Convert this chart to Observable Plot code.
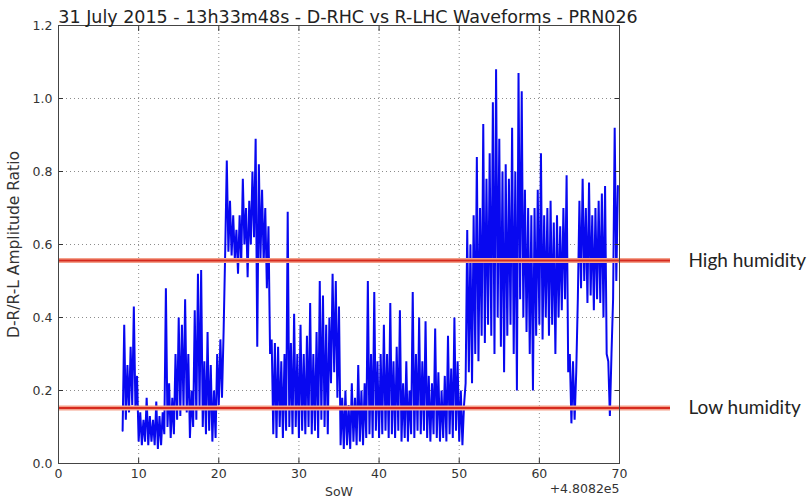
<!DOCTYPE html>
<html>
<head>
<meta charset="utf-8">
<script src="https://cdn.jsdelivr.net/npm/d3@7"></script>
<script src="https://cdn.jsdelivr.net/npm/@observablehq/plot@0.6"></script>
<style>
  html, body { margin: 0; padding: 0; background: #fff; }
  #chart svg { display: block; }
</style>
</head>
<body>
<div id="chart"></div>
<script>
// Chart text
const titleText = "31 July 2015 - 13h33m48s - D-RHC vs R-LHC Waveforms - PRN026";
const yLabel = "D-R/R-L Amplitude Ratio";
const xLabel = "SoW";
const xOffsetText = "+4.8082e5";

// Ticks
const xTicks = [0, 10, 20, 30, 40, 50, 60, 70];
const yTicks = [0.0, 0.2, 0.4, 0.6, 0.8, 1.0, 1.2];

// Humidity reference levels
const levelNames = ["High humidity", "Low humidity"];
const levelValues = [0.556, 0.152];

// Seconds of week (offset +4.8082e5)
const sow = [
  8.0, 8.2, 8.4, 8.6, 8.8,
  9.0, 9.2, 9.4, 9.6, 9.8,
  10.0, 10.2, 10.4, 10.6, 10.8,
  11.0, 11.2, 11.4, 11.6, 11.8,
  12.0, 12.2, 12.4, 12.6, 12.8,
  13.0, 13.2, 13.4, 13.6, 13.8,
  14.0, 14.2, 14.4, 14.6, 14.8,
  15.0, 15.2, 15.4, 15.6, 15.8,
  16.0, 16.2, 16.4, 16.6, 16.8,
  17.0, 17.2, 17.4, 17.6, 17.8,
  18.0, 18.2, 18.4, 18.6, 18.8,
  19.0, 19.2, 19.4, 19.6, 19.8,
  20.0, 20.2, 20.4, 20.6, 20.8,
  21.0, 21.2, 21.4, 21.6, 21.8,
  22.0, 22.2, 22.4, 22.6, 22.8,
  23.0, 23.2, 23.4, 23.6, 23.8,
  24.0, 24.2, 24.4, 24.6, 24.8,
  25.0, 25.2, 25.4, 25.6, 25.8,
  26.0, 26.2, 26.4, 26.6, 26.8,
  27.0, 27.2, 27.4, 27.6, 27.8,
  28.0, 28.2, 28.4, 28.6, 28.8,
  29.0, 29.2, 29.4, 29.6, 29.8,
  30.0, 30.2, 30.4, 30.6, 30.8,
  31.0, 31.2, 31.4, 31.6, 31.8,
  32.0, 32.2, 32.4, 32.6, 32.8,
  33.0, 33.2, 33.4, 33.6, 33.8,
  34.0, 34.2, 34.4, 34.6, 34.8,
  35.0, 35.2, 35.4, 35.6, 35.8,
  36.0, 36.2, 36.4, 36.6, 36.8,
  37.0, 37.2, 37.4, 37.6, 37.8,
  38.0, 38.2, 38.4, 38.6, 38.8,
  39.0, 39.2, 39.4, 39.6, 39.8,
  40.0, 40.2, 40.4, 40.6, 40.8,
  41.0, 41.2, 41.4, 41.6, 41.8,
  42.0, 42.2, 42.4, 42.6, 42.8,
  43.0, 43.2, 43.4, 43.6, 43.8,
  44.0, 44.2, 44.4, 44.6, 44.8,
  45.0, 45.2, 45.4, 45.6, 45.8,
  46.0, 46.2, 46.4, 46.6, 46.8,
  47.0, 47.2, 47.4, 47.6, 47.8,
  48.0, 48.2, 48.4, 48.6, 48.8,
  49.0, 49.2, 49.4, 49.6, 49.8,
  50.0, 50.2, 50.4, 50.6, 50.8,
  51.0, 51.2, 51.4, 51.6, 51.8,
  52.0, 52.2, 52.4, 52.6, 52.8,
  53.0, 53.2, 53.4, 53.6, 53.8,
  54.0, 54.2, 54.4, 54.6, 54.8,
  55.0, 55.2, 55.4, 55.6, 55.8,
  56.0, 56.2, 56.4, 56.6, 56.8,
  57.0, 57.2, 57.4, 57.6, 57.8,
  58.0, 58.2, 58.4, 58.6, 58.8,
  59.0, 59.2, 59.4, 59.6, 59.8,
  60.0, 60.2, 60.4, 60.6, 60.8,
  61.0, 61.2, 61.4, 61.6, 61.8,
  62.0, 62.2, 62.4, 62.6, 62.8,
  63.0, 63.2, 63.4, 63.6, 63.8,
  64.0, 64.2, 64.4, 64.6, 64.8,
  65.0, 65.2, 65.4, 65.6, 65.8,
  66.0, 66.2, 66.4, 66.6, 66.8,
  67.0, 67.2, 67.4, 67.6, 67.8,
  68.0, 68.2, 68.4, 68.6, 68.8,
  69.0, 69.2, 69.4, 69.6, 69.8
];

// D-R/R-L amplitude ratio
const ratio = [
  0.09, 0.38, 0.12, 0.27, 0.14,
  0.32, 0.16, 0.43, 0.15, 0.24,
  0.06, 0.14, 0.05, 0.12, 0.06,
  0.18, 0.05, 0.13, 0.06, 0.12,
  0.05, 0.17, 0.04, 0.13, 0.05,
  0.14, 0.08, 0.48, 0.10, 0.22,
  0.07, 0.18, 0.08, 0.30, 0.12,
  0.40, 0.13, 0.38, 0.15, 0.45,
  0.14, 0.30, 0.07, 0.20, 0.10,
  0.42, 0.12, 0.52, 0.15, 0.53,
  0.10, 0.28, 0.08, 0.36, 0.09,
  0.27, 0.06, 0.20, 0.07, 0.30,
  0.16, 0.34, 0.18, 0.36, 0.58,
  0.83, 0.58, 0.72, 0.57, 0.68,
  0.56, 0.64, 0.52, 0.68, 0.55,
  0.78, 0.60, 0.70, 0.51, 0.72,
  0.60, 0.80, 0.62, 0.89, 0.32,
  0.82, 0.56, 0.75, 0.55, 0.70,
  0.48, 0.65, 0.30, 0.34, 0.08,
  0.33, 0.07, 0.32, 0.10, 0.28,
  0.07, 0.30, 0.09, 0.69, 0.10,
  0.33, 0.08, 0.41, 0.10, 0.30,
  0.07, 0.38, 0.09, 0.30, 0.08,
  0.35, 0.10, 0.44, 0.08, 0.30,
  0.09, 0.36, 0.07, 0.50, 0.12,
  0.46, 0.10, 0.38, 0.08, 0.40,
  0.22, 0.52, 0.25, 0.50, 0.18,
  0.43, 0.05, 0.18, 0.04, 0.20,
  0.05, 0.16, 0.04, 0.22, 0.06,
  0.18, 0.05, 0.27, 0.06, 0.20,
  0.05, 0.22, 0.07, 0.50, 0.08,
  0.30, 0.07, 0.47, 0.09, 0.28,
  0.07, 0.30, 0.08, 0.38, 0.09,
  0.30, 0.07, 0.44, 0.08, 0.28,
  0.07, 0.32, 0.09, 0.42, 0.06,
  0.22, 0.07, 0.28, 0.06, 0.20,
  0.08, 0.47, 0.07, 0.30, 0.09,
  0.40, 0.08, 0.28, 0.09, 0.39,
  0.07, 0.24, 0.06, 0.22, 0.08,
  0.37, 0.07, 0.25, 0.06, 0.20,
  0.07, 0.24, 0.06, 0.35, 0.08,
  0.26, 0.07, 0.40, 0.09, 0.28,
  0.06, 0.20, 0.05, 0.16, 0.22,
  0.64, 0.25, 0.60, 0.22, 0.68,
  0.30, 0.84, 0.28, 0.70, 0.35,
  0.93, 0.33, 0.78, 0.38, 0.85,
  0.35, 0.99, 0.30, 1.08, 0.40,
  0.89, 0.32, 0.80, 0.25, 0.82,
  0.35, 0.78, 0.38, 0.92, 0.30,
  0.80, 0.20, 1.07, 0.45, 1.02,
  0.40, 0.75, 0.36, 0.70, 0.30,
  0.68, 0.20, 0.70, 0.35, 0.75,
  0.38, 0.85, 0.34, 0.68, 0.40,
  0.70, 0.35, 0.72, 0.38, 0.66,
  0.30, 0.68, 0.40, 0.65, 0.42,
  0.70, 0.45, 0.79, 0.25, 0.30,
  0.11, 0.28, 0.12, 0.25, 0.45,
  0.72, 0.48, 0.78, 0.50, 0.70,
  0.44, 0.77, 0.46, 0.68, 0.42,
  0.70, 0.45, 0.72, 0.44, 0.74,
  0.40, 0.76, 0.30, 0.28, 0.13,
  0.30, 0.45, 0.92, 0.50, 0.76
];

const series = sow.map((t, i) => ({t, v: ratio[i]}));
const levels = levelNames.map((name, i) => ({name, v: levelValues[i]}));

const fmt = d3.format(".1f");

const chart = Plot.plot({
  width: 807,
  height: 503,
  marginLeft: 58,
  marginRight: 188,
  marginTop: 25,
  marginBottom: 40,
  x: {domain: [0, 70]},
  y: {domain: [0, 1.2]},
  style: {fontFamily: "DejaVu Sans", background: "#ffffff", overflow: "visible"},
  marks: [
    Plot.gridX(xTicks, {stroke: "#000", strokeOpacity: 0.45, strokeDasharray: "1,3"}),
    Plot.gridY(yTicks, {stroke: "#000", strokeOpacity: 0.45, strokeDasharray: "1,3"}),
    Plot.line(series, {x: "t", y: "v", stroke: "#0808f0", strokeWidth: 2, strokeLinejoin: "miter"}),
    Plot.ruleY(levels, {y: "v", stroke: "#f4a08a", strokeWidth: 5, insetRight: -51}),
    Plot.ruleY(levels, {y: "v", stroke: "#d62a1e", strokeWidth: 2, insetRight: -51}),
    Plot.axisX(xTicks, {anchor: "bottom", tickSize: -5, tickPadding: 11, fontSize: 12.5, fill: "#333", stroke: "#333", label: null}),
    Plot.axisX(xTicks, {anchor: "top", tickSize: -5, text: null, stroke: "#333", label: null}),
    Plot.axisY(yTicks, {anchor: "left", tickSize: -5, tickPadding: 11, fontSize: 12.5, fill: "#333", stroke: "#333", tickFormat: fmt, label: null}),
    Plot.axisY(yTicks, {anchor: "right", tickSize: -5, text: null, stroke: "#333", label: null}),
    Plot.frame({stroke: "#444"}),
    Plot.text([titleText], {frameAnchor: "top", dx: 9, dy: -15, fontSize: 17.5, fill: "#222"}),
    Plot.text([yLabel], {frameAnchor: "left", dx: -44, rotate: -90, textAnchor: "middle", fontSize: 15.5, fill: "#333"}),
    Plot.text([xLabel], {frameAnchor: "bottom", dy: 32, fontSize: 12.5, fill: "#333"}),
    Plot.text([xOffsetText], {frameAnchor: "bottom-right", dy: 29, textAnchor: "end", fontSize: 12.5, fill: "#333"}),
    Plot.text(levels, {y: "v", text: "name", frameAnchor: "right", dx: 69, textAnchor: "start", fontFamily: "Lato", fontSize: 19, fill: "#222"})
  ]
});

document.getElementById("chart").appendChild(chart);
</script>
</body>
</html>
